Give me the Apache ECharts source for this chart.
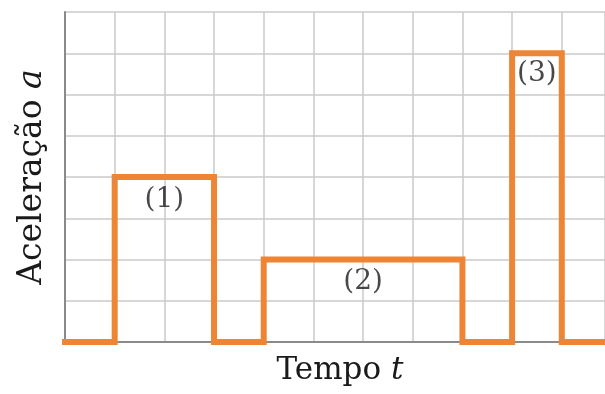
<!DOCTYPE html>
<html>
<head>
<meta charset="utf-8">
<script src="https://cdn.jsdelivr.net/npm/echarts@6/dist/echarts.min.js"></script>
<style>
  html, body { margin: 0; padding: 0; background: #fff; }
  #chart { width: 605px; height: 394px; }
</style>
</head>
<body>
<div id="chart"></div>
<script>
// step profile of the acceleration
const times = [0, 1, 1, 3, 3, 4, 4, 8, 8, 9, 9, 10, 10, 11]
const accel = [0, 0, 4, 4, 0, 0, 2, 2, 0, 0, 7, 7, 0, 0]

// pulse labels
const pulseNames = ['(1)', '(2)', '(3)']
const pulseT = [2, 6, 9.5]
const pulseA = [3.45, 1.45, 6.5]

const tMax = 10.87
const aMax = 8

const chart = echarts.init(document.getElementById('chart'))

const serif = 'DejaVu Serif'
const ink = '#1a1a1a'
const gridLine = { lineStyle: { color: '#cacaca', width: 1.5 } }

const option = {
  animation: false,
  grid: { left: 65, top: 12, right: 0, bottom: 52 },
  xAxis: {
    type: 'value',
    min: 0,
    max: tMax,
    interval: 1,
    name: 'Tempo {i|t}',
    nameLocation: 'middle',
    nameGap: 13,
    nameTextStyle: {
      fontFamily: serif,
      fontSize: 31,
      color: ink,
      padding: [0, 0, 0, 10],
      rich: { i: { fontFamily: serif, fontStyle: 'italic', fontSize: 31, color: ink } }
    },
    axisLine: { lineStyle: { color: '#8a8a8a', width: 2 } },
    axisTick: { show: false },
    axisLabel: { show: false },
    splitLine: gridLine
  },
  yAxis: {
    type: 'value',
    min: 0,
    max: aMax,
    interval: 1,
    name: 'Aceleração {i|a}',
    nameLocation: 'middle',
    nameGap: 16,
    nameRotate: 90,
    nameTextStyle: {
      fontFamily: serif,
      fontSize: 33,
      color: ink,
      rich: { i: { fontFamily: serif, fontStyle: 'italic', fontSize: 33, color: ink } }
    },
    axisLine: { show: true, lineStyle: { color: '#8a8a8a', width: 2 } },
    axisTick: { show: false },
    axisLabel: { show: false },
    splitLine: gridLine
  },
  series: [
    {
      type: 'line',
      data: times.map((t, i) => [t, accel[i]]),
      symbol: 'none',
      lineStyle: { color: '#ee8535', width: 6, join: 'miter', cap: 'square' },
      z: 5
    },
    {
      type: 'scatter',
      data: pulseNames.map((n, i) => [pulseT[i], pulseA[i], n]),
      symbolSize: 0,
      label: {
        show: true,
        position: 'inside',
        formatter: p => p.data[2],
        fontFamily: serif,
        fontSize: 28,
        color: ink
      },
      z: 6
    }
  ]
}

chart.setOption(option)
</script>
</body>
</html>
